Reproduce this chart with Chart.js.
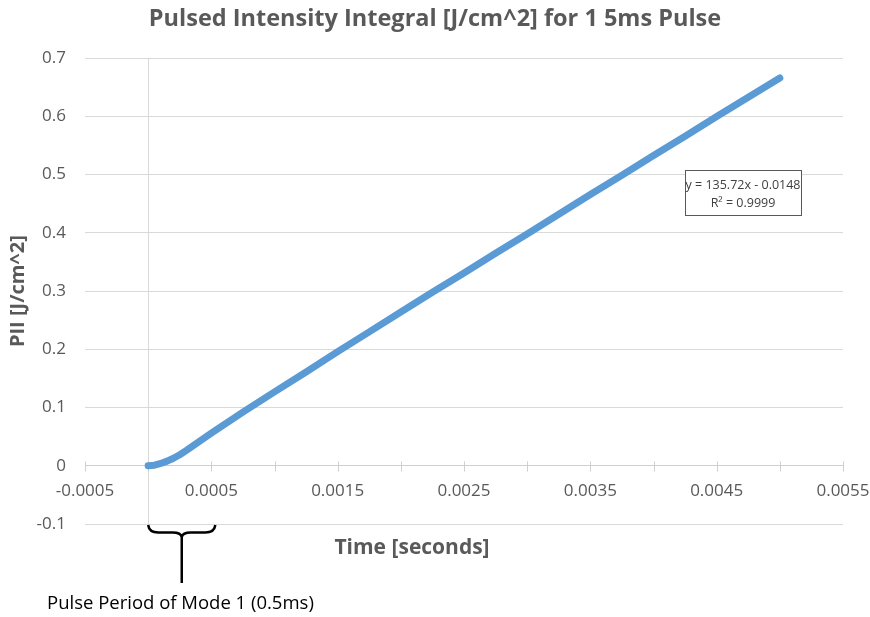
<!DOCTYPE html>
<html>
<head>
<meta charset="utf-8">
<script src="https://cdn.jsdelivr.net/npm/chart.js@4"></script>
<style>
  html, body { margin: 0; padding: 0; background: #fff; }
</style>
</head>
<body>
<canvas id="myChart" width="870" height="617"></canvas>
<script>
  // time [s] and pulsed intensity integral [J/cm^2]
  const times = [0, 0.00005, 0.0001, 0.00015, 0.0002, 0.00025, 0.0003, 0.0004, 0.0005, 0.00075,
    0.001, 0.00125, 0.0015, 0.00175, 0.002, 0.00225, 0.0025, 0.00275, 0.003, 0.00325,
    0.0035, 0.00375, 0.004, 0.00425, 0.0045, 0.00475, 0.005];
  const pii = [0, 0.001, 0.004, 0.008, 0.013, 0.019, 0.026, 0.041, 0.056, 0.092,
    0.127, 0.161, 0.196, 0.230, 0.264, 0.298, 0.331, 0.365, 0.398, 0.432,
    0.466, 0.499, 0.533, 0.566, 0.600, 0.633, 0.666];

  const xTickLabels = ['-0.0005', '0.0005', '0.0015', '0.0025', '0.0035', '0.0045', '0.0055'];
  const yTickLabels = ['-0.1', '0', '0.1', '0.2', '0.3', '0.4', '0.5', '0.6', '0.7'];

  const trendText = ['y = 135.72x - 0.0148', 'R\u00b2 = 0.9999'];
  const periodStart = 0;
  const periodEnd = 0.0005;

  const FONT = "'Open Sans', sans-serif";
  const GRID = '#d9d9d9';
  const TEXT = '#595959';

  const extras = {
    id: 'extras',
    beforeDatasetsDraw(chart) {
      const ctx = chart.ctx, xs = chart.scales.x, ys = chart.scales.y;
      const y0 = Math.round(ys.getPixelForValue(0)) + 0.5;
      ctx.save();
      ctx.strokeStyle = '#cfcfcf';
      ctx.lineWidth = 1;
      ctx.beginPath();
      xs.ticks.forEach(t => {
        const px = Math.round(xs.getPixelForValue(t.value)) + 0.5;
        ctx.moveTo(px, y0 - 5);
        ctx.lineTo(px, y0 + 5);
      });
      ctx.stroke();
      ctx.restore();
    },
    afterDraw(chart) {
      const ctx = chart.ctx, xs = chart.scales.x;
      ctx.save();

      // axis title
      ctx.fillStyle = TEXT;
      ctx.font = 'bold 21px ' + FONT;
      ctx.textAlign = 'center';
      ctx.textBaseline = 'middle';
      ctx.fillText('Time [seconds]', 412, 548);

      // trendline equation box
      ctx.fillStyle = '#fff';
      ctx.fillRect(685, 170, 116, 45);
      ctx.strokeStyle = '#595959';
      ctx.lineWidth = 1;
      ctx.strokeRect(685.5, 170.5, 116, 45);
      ctx.fillStyle = '#404040';
      ctx.font = '12.5px ' + FONT;
      ctx.fillText(trendText[0], 743, 185);
      ctx.fillText(trendText[1], 743, 203);

      // brace under the first pulse period
      const xa = xs.getPixelForValue(periodStart);
      const xb = xs.getPixelForValue(periodEnd) + 4;
      const xc = (xa + xb) / 2;
      const top = 525, mid = 532.5, tip = 537;
      ctx.strokeStyle = '#000';
      ctx.lineWidth = 2.5;
      ctx.lineJoin = 'round';
      ctx.beginPath();
      ctx.moveTo(xa, top);
      ctx.quadraticCurveTo(xa + 1, mid, xa + 10, mid);
      ctx.lineTo(xc - 9, mid);
      ctx.quadraticCurveTo(xc - 1, mid, xc, tip);
      ctx.quadraticCurveTo(xc + 1, mid, xc + 9, mid);
      ctx.lineTo(xb - 10, mid);
      ctx.quadraticCurveTo(xb - 1, mid, xb, top);
      ctx.moveTo(xc, tip);
      ctx.lineTo(xc, 583);
      ctx.stroke();

      ctx.fillStyle = '#000';
      ctx.font = '18.5px ' + FONT;
      ctx.textAlign = 'left';
      ctx.fillText('Pulse Period of Mode 1 (0.5ms)', 47, 604);
      ctx.restore();
    }
  };

  const data = {
    datasets: [{
      label: 'PII',
      data: times.map((t, i) => ({ x: t, y: pii[i] })),
      showLine: true,
      borderColor: '#5b9bd5',
      backgroundColor: '#5b9bd5',
      borderWidth: 7,
      borderCapStyle: 'round',
      borderJoinStyle: 'round',
      pointRadius: 0,
      tension: 0
    }]
  };

  const config = {
    type: 'scatter',
    data: data,
    options: {
      responsive: false,
      animation: false,
      layout: { padding: { left: 0, right: 0, top: 0, bottom: 93 } },
      plugins: {
        legend: { display: false },
        tooltip: { enabled: false },
        title: {
          display: true,
          text: 'Pulsed Intensity Integral [J/cm^2] for 1 5ms Pulse',
          color: TEXT,
          font: { family: FONT, size: 23.5, weight: 'bold' },
          padding: { top: 5, bottom: 25 }
        }
      },
      scales: {
        x: {
          type: 'linear',
          position: { y: 0 },
          min: -0.0005,
          max: 0.0055,
          afterFit: (s) => { s.paddingLeft = 0; s.paddingRight = 27; },
          ticks: {
            stepSize: 0.0005,
            autoSkip: false,
            maxRotation: 0,
            padding: 15,
            color: TEXT,
            font: { family: FONT, size: 17 },
            callback: (v) => {
              const s = v.toFixed(4);
              return xTickLabels.includes(s) ? s : '';
            }
          },
          grid: {
            drawTicks: false,
            color: (c) => (c.tick && Math.abs(c.tick.value) < 1e-9) ? GRID : 'rgba(0,0,0,0)'
          },
          border: { display: true, color: '#cfcfcf' }
        },
        y: {
          min: -0.1,
          max: 0.7,
          afterFit: (s) => { s.width = 85; },
          ticks: {
            stepSize: 0.1,
            padding: 19,
            color: TEXT,
            font: { family: FONT, size: 17 },
            callback: (v, i) => yTickLabels[i]
          },
          grid: { drawTicks: false, color: GRID },
          border: { display: false },
          title: {
            display: true,
            text: 'PII [J/cm^2]',
            color: TEXT,
            font: { family: FONT, size: 20, weight: 'bold' },
            padding: { top: 6, bottom: 0 }
          }
        }
      }
    },
    plugins: [extras]
  };

  const myChart = new Chart(document.getElementById('myChart'), config);
</script>
</body>
</html>
